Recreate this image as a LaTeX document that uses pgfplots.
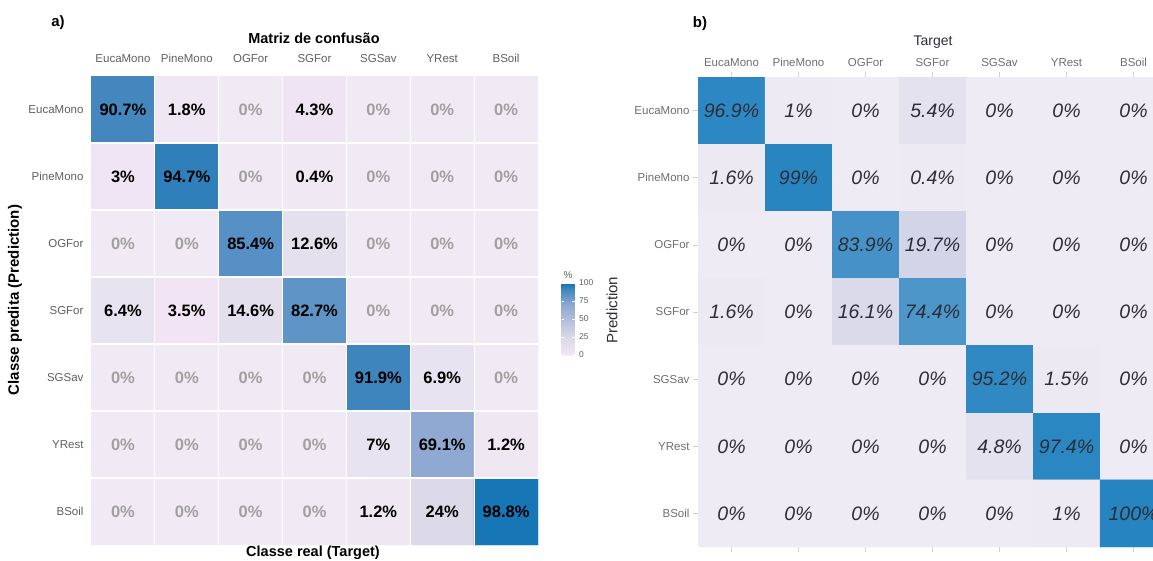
\documentclass[border=0pt]{standalone}
\usepackage{pgfplots}
\usepackage{pgfplotstable}
\pgfplotsset{compat=1.18}
\usepackage{fontspec}
\setmainfont{Liberation Sans}
\pgfkeys{/pgf/number format/assume math mode=true}
\definecolor{zgray}{RGB}{160,160,160}
\definecolor{lblgray}{RGB}{95,95,95}
\definecolor{rtxt}{RGB}{45,45,55}
\definecolor{rlbl}{RGB}{110,110,110}

% left matrix: x = target (column), y = prediction (row)
\pgfplotstableread{
x y v
0 0 90.7
1 0 1.8
2 0 0
3 0 4.3
4 0 0
5 0 0
6 0 0
0 1 3
1 1 94.7
2 1 0
3 1 0.4
4 1 0
5 1 0
6 1 0
0 2 0
1 2 0
2 2 85.4
3 2 12.6
4 2 0
5 2 0
6 2 0
0 3 6.4
1 3 3.5
2 3 14.6
3 3 82.7
4 3 0
5 3 0
6 3 0
0 4 0
1 4 0
2 4 0
3 4 0
4 4 91.9
5 4 6.9
6 4 0
0 5 0
1 5 0
2 5 0
3 5 0
4 5 7
5 5 69.1
6 5 1.2
0 6 0
1 6 0
2 6 0
3 6 0
4 6 1.2
5 6 24
6 6 98.8
}\lefttab

\pgfplotstableread{
x y v
0 0 96.9
1 0 1
2 0 0
3 0 5.4
4 0 0
5 0 0
6 0 0
0 1 1.6
1 1 99
2 1 0
3 1 0.4
4 1 0
5 1 0
6 1 0
0 2 0
1 2 0
2 2 83.9
3 2 19.7
4 2 0
5 2 0
6 2 0
0 3 1.6
1 3 0
2 3 16.1
3 3 74.4
4 3 0
5 3 0
6 3 0
0 4 0
1 4 0
2 4 0
3 4 0
4 4 95.2
5 4 1.5
6 4 0
0 5 0
1 5 0
2 5 0
3 5 0
4 5 4.8
5 5 97.4
6 5 0
0 6 0
1 6 0
2 6 0
3 6 0
4 6 0
5 6 1
6 6 100
}\righttab

\newcommand{\leftlabel}{\ifdim\pgfplotspointmetatransformed pt<0.5pt\color{zgray}\else\color{black}\fi\pgfmathprintnumber[fixed,precision=1]{\pgfplotspointmeta}\%}

\begin{document}
\begin{tikzpicture}[x=1pt,y=1pt]
\useasboundingbox (0,0) rectangle (1153,560);
\clip (0,0) rectangle (1153,560);

\begin{axis}[
  at={(91pt,15pt)}, anchor=south west,
  scale only axis, width=447pt, height=469pt,
  xmin=-0.5, xmax=6.5, ymin=-0.5, ymax=6.5, y dir=reverse,
  enlargelimits=false,
  axis line style={draw=none}, major tick length=0pt, minor tick length=0pt,
  xtick={0,...,6}, ytick={0,...,6},
  xticklabels={EucaMono,PineMono,OGFor,SGFor,SGSav,YRest,BSoil},
  yticklabels={EucaMono,PineMono,OGFor,SGFor,SGSav,YRest,BSoil},
  xticklabel pos=upper,
  ticklabel style={font=\fontsize{11.5}{13}\selectfont, text=lblgray},
  xticklabel style={yshift=10pt},
  yticklabel style={xshift=-4pt},
  minor xtick={0.5,1.5,2.5,3.5,4.5,5.5},
  minor ytick={0.5,1.5,2.5,3.5,4.5,5.5},
  xminorgrids, yminorgrids,
  minor grid style={white, line width=1.2pt},
  axis on top,
  colormap={leftmap}{
    rgb255(0pt)=(240,234,244)
    rgb255(1.5pt)=(239,232,243)
    rgb255(3.5pt)=(241,228,244)
    rgb255(6pt)=(232,227,240)
    rgb255(13pt)=(228,224,238)
    rgb255(24pt)=(220,217,233)
    rgb255(69pt)=(143,169,210)
    rgb255(83pt)=(94,149,198)
    rgb255(91pt)=(67,134,190)
    rgb255(99pt)=(22,118,182)
    rgb255(100pt)=(20,117,181)},
  point meta min=0, point meta max=100,
  colorbar,
  colorbar style={
    at={(parent axis.south east)}, anchor=south west,
    xshift=15pt, yshift=190pt,
    width=13pt, height=72pt,
    ytick={0,25,50,75,100},
    major tick length=2.5pt,
    tick style={white, line width=0.7pt},
    yticklabel style={font=\fontsize{8.5}{10}\selectfont, text=lblgray, xshift=1pt},
    title={\%}, title style={font=\fontsize{10}{11}\selectfont, text=lblgray, yshift=-5pt},
    axis line style={draw=none},
  },
]
\addplot[matrix plot*, mesh/cols=7, point meta=explicit] table[x=x, y=y, meta=v] {\lefttab};
\addplot[only marks, mark=none, point meta=explicit,
  nodes near coords={\leftlabel},
  every node near coord/.append style={font=\bfseries\fontsize{16.5}{18}\selectfont, anchor=center},
] table[x=x, y=y, meta=v] {\lefttab};
\end{axis}

\begin{axis}[
  at={(698pt,13pt)}, anchor=south west,
  scale only axis, width=469pt, height=470pt,
  xmin=-0.5, xmax=6.5, ymin=-0.5, ymax=6.5, y dir=reverse,
  enlargelimits=false,
  axis line style={draw=none},
  tick align=outside, major tick length=5pt,
  tick style={color=black!18, line width=0.6pt},
  xtick pos=both, ytick pos=left,
  xtick={0,...,6}, ytick={0,...,6},
  xticklabels={EucaMono,PineMono,OGFor,SGFor,SGSav,YRest,BSoil},
  yticklabels={EucaMono,PineMono,OGFor,SGFor,SGSav,YRest,BSoil},
  xticklabel pos=upper,
  ticklabel style={font=\fontsize{11.5}{13}\selectfont, text=rlbl},
  xticklabel style={yshift=2pt},
  colormap={rightmap}{
    rgb255(0pt)=(239,235,244)
    rgb255(1.5pt)=(236,233,242)
    rgb255(5pt)=(228,226,238)
    rgb255(16pt)=(219,218,235)
    rgb255(20pt)=(210,212,232)
    rgb255(74pt)=(76,150,202)
    rgb255(84pt)=(70,146,200)
    rgb255(96pt)=(46,136,194)
    rgb255(100pt)=(38,132,192)},
  point meta min=0, point meta max=100,
]
\addplot[matrix plot*, mesh/cols=7, point meta=explicit] table[x=x, y=y, meta=v] {\righttab};
\addplot[only marks, mark=none, point meta=explicit,
  nodes near coords={\pgfmathprintnumber[fixed,precision=1]{\pgfplotspointmeta}\%},
  every node near coord/.append style={font=\itshape\fontsize{19.5}{22}\selectfont, text=rtxt, anchor=center},
] table[x=x, y=y, meta=v] {\righttab};
\end{axis}

\node[font=\bfseries\fontsize{15}{17}\selectfont] at (58,537) {a)};
\node[font=\bfseries\fontsize{14.5}{16}\selectfont] at (314,522) {Matriz de confusão};
\node[font=\bfseries\fontsize{14.5}{16}\selectfont] at (313,7) {Classe real (Target)};
\node[font=\bfseries\fontsize{15}{17}\selectfont, rotate=90] at (15,260) {Classe predita (Prediction)};
\node[font=\bfseries\fontsize{15}{17}\selectfont] at (700,536) {b)};
\node[font=\fontsize{14}{16}\selectfont, text=rtxt] at (933,518) {Target};
\node[font=\fontsize{15}{17}\selectfont, rotate=90, text=rtxt] at (612,250) {Prediction};
\end{tikzpicture}
\end{document}
